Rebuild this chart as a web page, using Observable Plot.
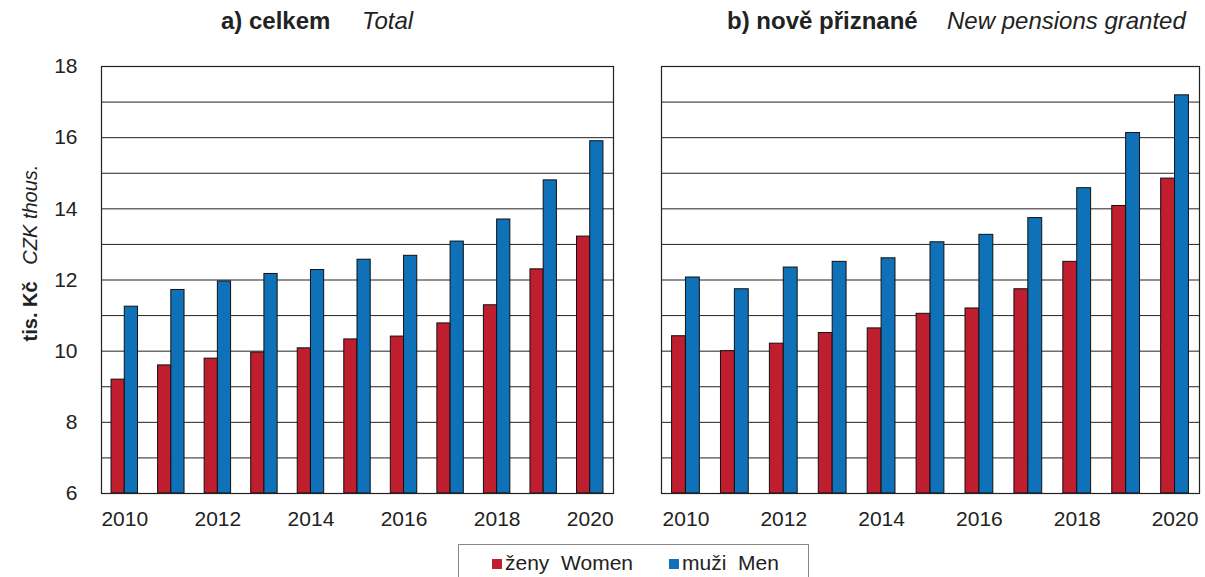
<!DOCTYPE html>
<html><head><meta charset="utf-8">
<script src="https://cdn.jsdelivr.net/npm/d3@7"></script>
<script src="https://cdn.jsdelivr.net/npm/@observablehq/plot@0.6"></script>
<style>
body{margin:0;background:#fff;font-family:"Liberation Sans",Arial,sans-serif;color:#222}
#wrap{position:relative;width:1205px;height:577px;overflow:hidden;background:#fff}
.panel{position:absolute;top:0}
.title{position:absolute;top:8px;font-size:24px;white-space:pre;line-height:26px}
.title b{font-weight:bold}
.title i{font-style:italic}
#ylab{position:absolute;left:30px;top:253px;transform:translate(-50%,-50%) rotate(-90deg);font-size:20px;white-space:pre;line-height:24px}
#legend{position:absolute;left:458px;top:544px;width:351px;height:40px;border:1px solid #888;box-sizing:border-box;font-size:21px;white-space:pre;line-height:24px}
.sw{display:inline-block;width:10px;height:10px;margin-right:3px;vertical-align:1px}
</style></head><body>
<div id="wrap">
  <div class="title" style="left:221px"><b>a) celkem</b></div>
  <div class="title" style="left:362px"><i>Total</i></div>
  <div class="title" style="left:727px"><b>b) nově přiznané</b></div>
  <div class="title" style="left:947px"><i>New pensions granted</i></div>
  <div id="ylab"><b>tis. Kč</b>   <i>CZK thous.</i></div>
  <div id="legend"></div>
</div>
<script>
const years = [2010, 2011, 2012, 2013, 2014, 2015, 2016, 2017, 2018, 2019, 2020];
const totalWomen = [9.20, 9.60, 9.79, 9.96, 10.08, 10.33, 10.41, 10.78, 11.29, 12.30, 13.22];
const totalMen   = [11.25, 11.72, 11.96, 12.17, 12.28, 12.57, 12.68, 13.08, 13.70, 14.80, 15.90];
const newWomen   = [10.42, 10.00, 10.21, 10.51, 10.64, 11.05, 11.20, 11.74, 12.51, 14.08, 14.85];
const newMen     = [12.07, 11.74, 12.35, 12.51, 12.61, 13.06, 13.27, 13.74, 14.58, 16.13, 17.19];
const yDomain = [6, 18];
const yTicks = [6, 8, 10, 12, 14, 16, 18];
const gridValues = [6, 7, 8, 9, 10, 11, 12, 13, 14, 15, 16, 17, 18];
const xTicks = [2010, 2012, 2014, 2016, 2018, 2020];
const seriesNames = ["ženy  Women", "muži  Men"];
const seriesColors = ["#be1e2d", "#0f71b8"];

const HALF = 0.284; // bar width as a fraction of one year step
const font = '"Liberation Sans", Arial, sans-serif';

function panel(women, men, showY, width, marginLeft, marginRight) {
  const rows = (vals, k) => years.map((y, i) => ({year: y, value: vals[i], k}));
  const w = rows(women, 0), m = rows(men, 1);
  return Plot.plot({
    width, height: 533,
    marginTop: 66, marginBottom: 40, marginLeft, marginRight,
    style: {fontSize: "21px", fontFamily: font, color: "#222", background: "white", overflow: "visible"},
    x: {domain: [years[0] - 0.5, years[years.length - 1] + 0.5], ticks: xTicks, tickFormat: "d", tickSize: 0, tickPadding: 18, label: null},
    y: {domain: yDomain, ticks: yTicks, tickSize: 0, tickPadding: 24, label: null, axis: showY ? "left" : null},
    marks: [
      Plot.ruleY(gridValues, {stroke: "#222", strokeWidth: 1}),
      Plot.rect(w, {x1: d => d.year - HALF, x2: d => d.year, y1: () => yDomain[0], y2: "value", fill: seriesColors[0], stroke: "#111", strokeWidth: 1}),
      Plot.rect(m, {x1: d => d.year, x2: d => d.year + HALF, y1: () => yDomain[0], y2: "value", fill: seriesColors[1], stroke: "#111", strokeWidth: 1}),
      Plot.frame({stroke: "#222", strokeWidth: 1.2})
    ]
  });
}

const wrap = document.getElementById("wrap");
const p1 = panel(totalWomen, totalMen, true, 620, 101, 7);
p1.classList.add("panel"); p1.style.left = "0px";
const p2 = panel(newWomen, newMen, false, 585, 41, 6);
p2.classList.add("panel"); p2.style.left = "620px";
wrap.insertBefore(p2, wrap.firstChild);
wrap.insertBefore(p1, wrap.firstChild);

const legend = document.getElementById("legend");
legend.innerHTML = seriesNames.map((n, i) =>
  `<span style="position:absolute;left:${i === 0 ? 33 : 210}px;top:6px"><span class="sw" style="background:${seriesColors[i]}"></span>${n}</span>`).join("");
</script>
</body></html>
